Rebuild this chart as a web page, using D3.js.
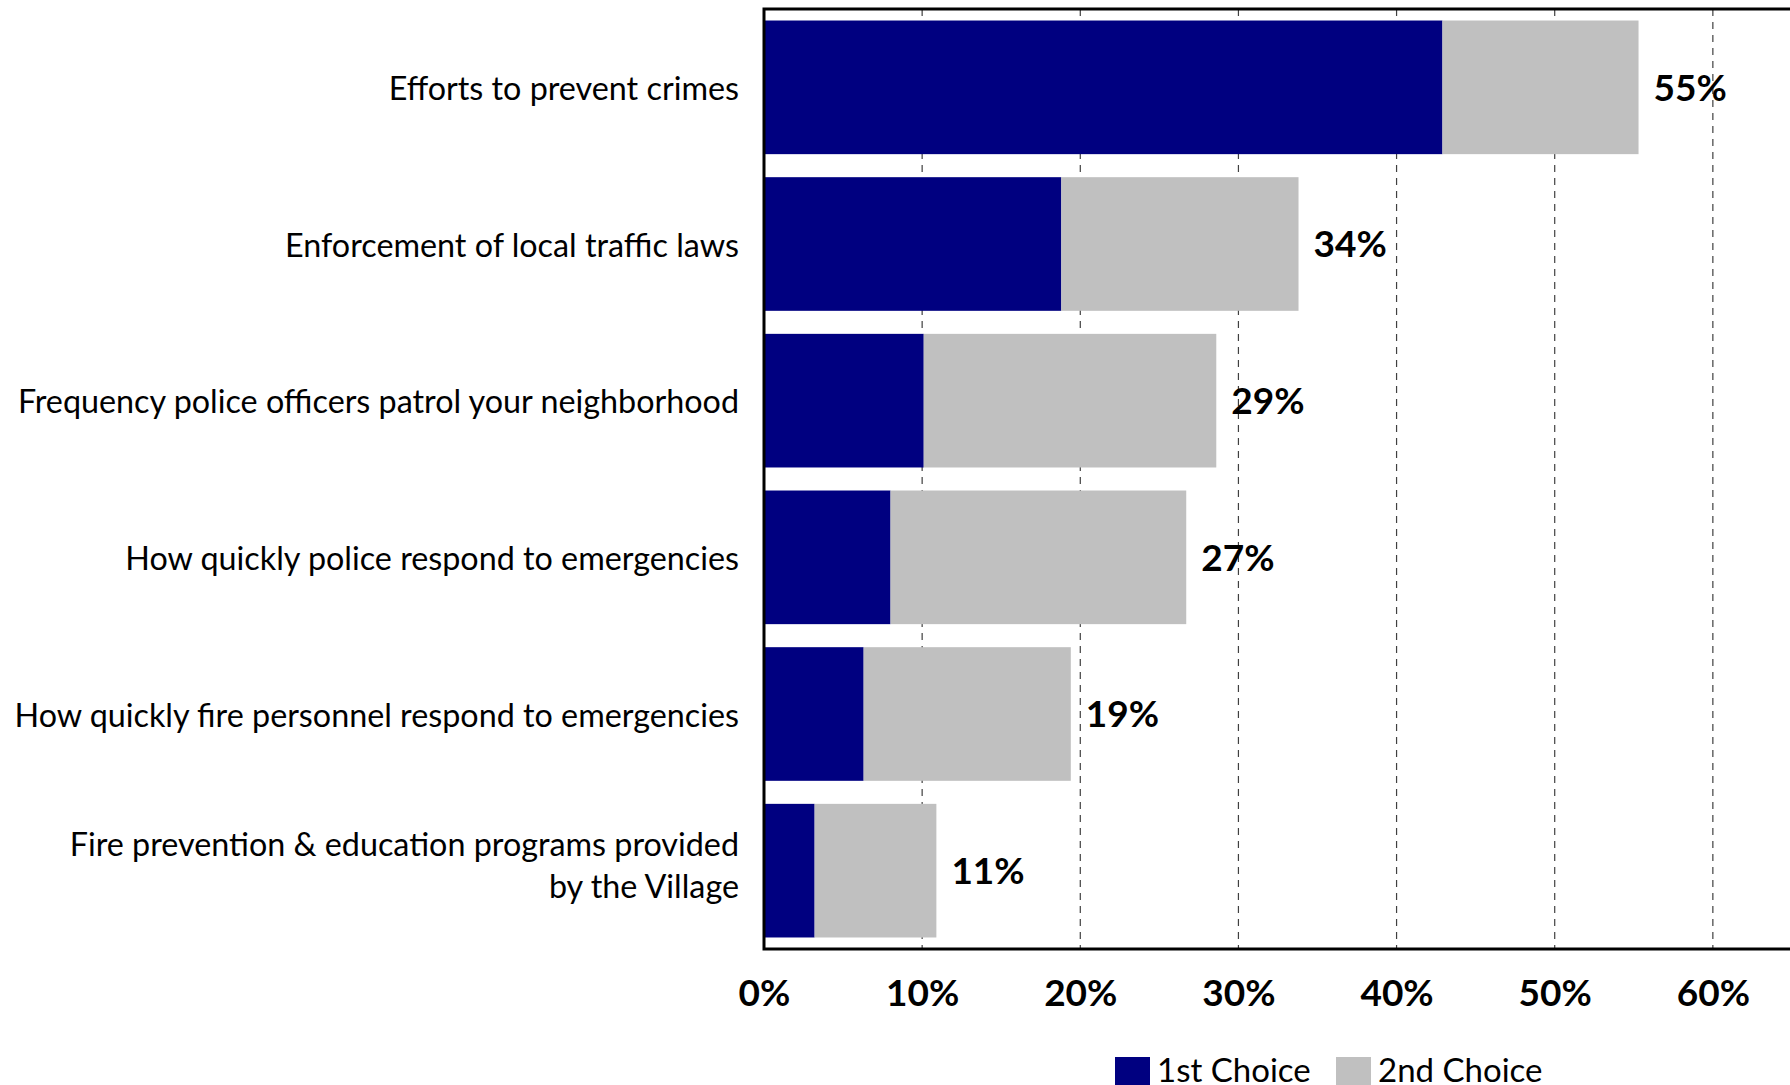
<!DOCTYPE html>
<html>
<head>
<meta charset="utf-8">
<script src="https://cdn.jsdelivr.net/npm/d3@7"></script>
<style>
  html, body { margin: 0; padding: 0; background: #ffffff; }
  svg { display: block; }
  text { font-family: Lato, "Open Sans", sans-serif; fill: #000; }
</style>
</head>
<body>
<svg id="chart" width="1790" height="1085"></svg>
<script>
// Survey items, ranked by combined share of first and second choices
// ("\n" marks a line break in the axis label)
const categories = [
  "Efforts to prevent crimes",
  "Enforcement of local traffic laws",
  "Frequency police officers patrol your neighborhood",
  "How quickly police respond to emergencies",
  "How quickly fire personnel respond to emergencies",
  "Fire prevention & education programs provided\nby the Village"
];
const firstChoice  = [0.429, 0.188, 0.101, 0.080, 0.063, 0.032];
const secondChoice = [0.124, 0.150, 0.185, 0.187, 0.131, 0.077];
const seriesNames  = ["1st Choice", "2nd Choice"];
const seriesColors = ["#000080", "#C0C0C0"];
const xTicks = [0, 0.1, 0.2, 0.3, 0.4, 0.5, 0.6];

const svg = d3.select("#chart");
const plot = { left: 764, top: 9, bottom: 949, right: 1871 };

const x = d3.scaleLinear().domain([0, 0.7]).range([plot.left, plot.right]);
const y = d3.scaleBand()
  .domain(categories)
  .range([plot.top, plot.bottom])
  .paddingInner(0.147)
  .paddingOuter(0.0735);

const rows = categories.map((c, i) => ({
  cat: c,
  first: firstChoice[i],
  second: secondChoice[i],
  total: firstChoice[i] + secondChoice[i]
}));

// Dashed vertical gridlines
svg.append("g")
  .selectAll("line")
  .data(xTicks.filter(d => d > 0).concat([0.7]))
  .join("line")
  .attr("x1", d => x(d)).attr("x2", d => x(d))
  .attr("y1", plot.top).attr("y2", plot.bottom)
  .attr("stroke", "#404040")
  .attr("stroke-width", 1.2)
  .attr("stroke-dasharray", "7,6");

// Stacked bars
const barG = svg.append("g");
barG.selectAll("rect.first")
  .data(rows)
  .join("rect")
  .attr("class", "first")
  .attr("x", x(0))
  .attr("y", d => y(d.cat))
  .attr("width", d => x(d.first) - x(0))
  .attr("height", y.bandwidth())
  .attr("fill", seriesColors[0]);
barG.selectAll("rect.second")
  .data(rows)
  .join("rect")
  .attr("class", "second")
  .attr("x", d => x(d.first))
  .attr("y", d => y(d.cat))
  .attr("width", d => x(d.total) - x(d.first))
  .attr("height", y.bandwidth())
  .attr("fill", seriesColors[1]);

// Total labels
svg.append("g")
  .selectAll("text")
  .data(rows)
  .join("text")
  .attr("x", d => x(d.total) + 15)
  .attr("y", d => y(d.cat) + y.bandwidth() / 2)
  .attr("dy", "0.36em")
  .attr("font-size", 37)
  .attr("font-weight", "bold")
  .text(d => d3.format(".0%")(d.total));

// Plot frame
svg.append("rect")
  .attr("x", plot.left).attr("y", plot.top)
  .attr("width", plot.right - plot.left + 20)
  .attr("height", plot.bottom - plot.top)
  .attr("fill", "none")
  .attr("stroke", "#000")
  .attr("stroke-width", 3);

// Category axis, multi-line labels split on "\n"
const lineHeight = 42;
const yAxis = svg.append("g")
  .attr("transform", `translate(${plot.left},0)`)
  .call(d3.axisLeft(y).tickSize(0).tickPadding(25).tickFormat(() => ""));
yAxis.select(".domain").remove();
yAxis.selectAll(".tick text")
  .attr("font-size", 32.3)
  .attr("font-family", "Lato, 'Open Sans', sans-serif")
  .attr("fill", "#000")
  .attr("dy", null)
  .each(function (d) {
    const t = d3.select(this);
    const lines = d.split("\n");
    const offset = lines.length > 1 ? -(lines.length - 1) * lineHeight / 2 - 6 : 0;
    lines.forEach((l, i) => {
      t.append("tspan")
        .attr("x", t.attr("x"))
        .attr("y", offset + i * lineHeight)
        .attr("dominant-baseline", "central")
        .text(l);
    });
  });

// Percentage axis
const xAxis = svg.append("g")
  .attr("transform", `translate(0,${plot.bottom})`)
  .call(d3.axisBottom(x).tickValues(xTicks).tickFormat(d3.format(".0%")).tickSize(0));
xAxis.select(".domain").remove();
xAxis.selectAll("text")
  .attr("y", 44)
  .attr("dy", "0.36em")
  .attr("font-size", 37)
  .attr("font-weight", "bold")
  .attr("font-family", "Lato, 'Open Sans', sans-serif")
  .attr("fill", "#000");

// Legend
const legendX = [1115, 1336];
const legend = svg.append("g");
seriesNames.forEach((name, i) => {
  legend.append("rect")
    .attr("x", legendX[i]).attr("y", 1057)
    .attr("width", 35).attr("height", 35)
    .attr("fill", seriesColors[i]);
  legend.append("text")
    .attr("x", legendX[i] + 42).attr("y", 1082)
    .attr("font-size", 33)
    .text(name);
});
</script>
</body>
</html>
